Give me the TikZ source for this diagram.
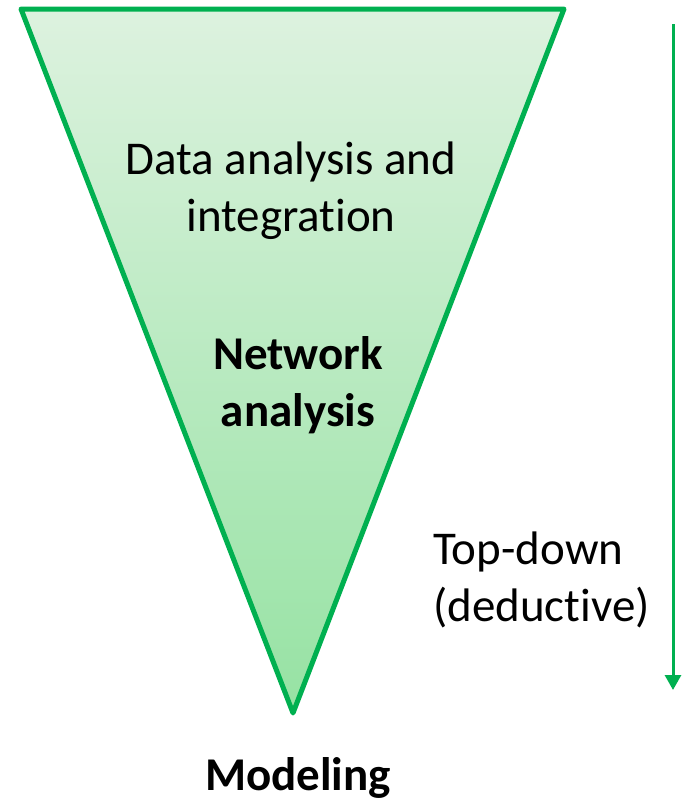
\documentclass[tikz,border=0pt]{standalone}
\usepackage{fontspec}
\setmainfont{Carlito}[Ligatures={NoCommon}]
\usetikzlibrary{arrows.meta}
\definecolor{tgreen}{RGB}{0,176,80}
\definecolor{ftop}{RGB}{221,242,223}
\definecolor{fbot}{RGB}{150,226,163}
\begin{document}
\begin{tikzpicture}[x=1pt,y=-1pt,
  lbl/.style={font=\fontsize{47}{57}\selectfont, inner sep=0pt, text=black},
  edge/.style={draw=tgreen, line width=5pt, line join=round},
  flow/.style={draw=tgreen, line width=3pt, -{Triangle[width=16pt,length=15pt]}}]
\useasboundingbox (0,0) rectangle (681,803);
\coordinate (tl) at (21,9);
\coordinate (tr) at (564,9);
\coordinate (ap) at (293,713);
\shade[top color=ftop, bottom color=fbot] (tl) -- (tr) -- (ap) -- cycle;
\path[edge] (tl) -- (tr) -- (ap) -- cycle;
\node[lbl, align=center] (data) at (291,191) {Data analysis and\\integration};
\node[lbl, align=center, font=\fontsize{47}{57}\selectfont\bfseries] (net) at (298,385) {Network\\analysis};
\node[lbl, align=left, anchor=west] (td) at (433,580) {Top-down\\(deductive)};
\node[lbl, anchor=base, font=\fontsize{47}{57}\selectfont\bfseries] (mod) at (298,790) {Modeling};
\coordinate (as) at (673,24);
\coordinate (ae) at (673,690);
\path[flow] (as) -- (ae);
\end{tikzpicture}
\end{document}
